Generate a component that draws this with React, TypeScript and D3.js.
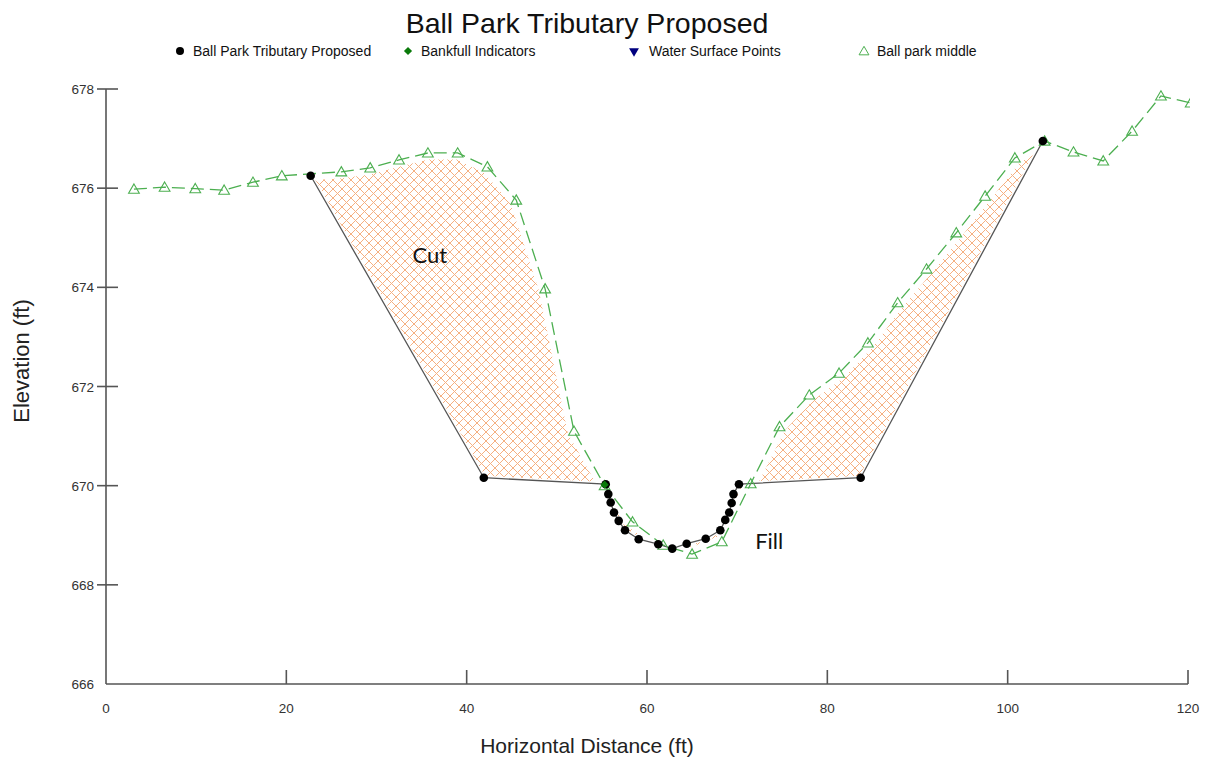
import React from "react";
import * as d3 from "d3";

// ---- data ----
const proposedX = [22.7, 41.9, 55.42, 55.71, 55.97, 56.34, 56.86, 57.56, 59.08, 61.25, 62.8, 64.4, 66.51, 68.13, 68.68, 69.12, 69.39, 69.59, 70.2, 83.7, 103.9];
const proposedY = [676.25, 670.16, 670.03, 669.83, 669.66, 669.46, 669.29, 669.1, 668.92, 668.82, 668.73, 668.83, 668.93, 669.1, 669.31, 669.46, 669.65, 669.83, 670.03, 670.16, 676.95];

const middleX = [3.1, 6.5, 9.9, 13.1, 16.3, 19.5, 26.1, 29.3, 32.5, 35.7, 39.0, 42.3, 45.5, 48.7, 51.9, 55.3, 58.4, 61.8, 65.0, 68.3, 71.5, 74.7, 78.0, 81.3, 84.5, 87.8, 91.0, 94.3, 97.5, 100.8, 104.1, 107.3, 110.6, 113.8, 117.0, 120.3];
const middleY = [675.98, 676.02, 675.99, 675.96, 676.12, 676.25, 676.33, 676.41, 676.57, 676.71, 676.71, 676.43, 675.76, 673.97, 671.1, 670.0, 669.27, 668.8, 668.62, 668.87, 670.04, 671.19, 671.83, 672.27, 672.88, 673.69, 674.37, 675.1, 675.84, 676.61, 676.95, 676.73, 676.55, 677.15, 677.86, 677.72];

const bankfullX = [55.3];
const bankfullY = [670.02];

const xTicks = [0, 20, 40, 60, 80, 100, 120];
const yTicks = [666, 668, 670, 672, 674, 676, 678];

const legendLabels = ["Ball Park Tributary Proposed", "Bankfull Indicators", "Water Surface Points", "Ball park middle"];

const annotations = [
  { label: "Cut", x: 34.0, y: 674.49 },
  { label: "Fill", x: 72.0, y: 668.73 },
];

// ---- layout ----
const W = 1205, H = 757;
const L = 106, R = 1188, T = 89, B = 684;

const x = d3.scaleLinear().domain([0, 120]).range([L, R]);
const y = d3.scaleLinear().domain([666, 678]).range([B, T]);

const proposed: [number, number][] = proposedX.map((v, i) => [v, proposedY[i]]);
const middle: [number, number][] = middleX.map((v, i) => [v, middleY[i]]);

function interp(pts: [number, number][], xv: number) {
  for (let i = 0; i < pts.length - 1; i++) {
    const [x0, y0] = pts[i], [x1, y1] = pts[i + 1];
    if (xv >= x0 && xv <= x1) return x1 === x0 ? y0 : y0 + ((xv - x0) / (x1 - x0)) * (y1 - y0);
  }
  return pts[pts.length - 1][1];
}

const lo = proposedX[0], hi = proposedX[proposedX.length - 1];
const unionX = Array.from(new Set([...proposedX, ...middleX.filter((v) => v > lo && v < hi)])).sort((a, b) => a - b);
const topEdge: [number, number][] = unionX.map((v) => [v, interp(middle, v)]);
const bottomEdge: [number, number][] = [...unionX].reverse().map((v) => [v, interp(proposed, v)]);

const line = d3.line<[number, number]>().x((d) => x(d[0])).y((d) => y(d[1]));
const hatchPath = line([...topEdge, ...bottomEdge]) + "Z";

const triUp = d3.symbol(d3.symbolTriangle, 50)()!;
const diamond = d3.symbol(d3.symbolSquare, 34)()!;
const triLegend = d3.symbol(d3.symbolTriangle, 42)()!;

const font = "'Liberation Sans', Arial, sans-serif";

export default function App() {
  const legendPos = [180, 408, 634, 864];
  return (
    <svg width={W} height={H} style={{ position: "absolute", left: 0, top: 0, background: "#fff" }} fontFamily={font}>
      <defs>
        <pattern id="hatch" width={9} height={9} patternUnits="userSpaceOnUse">
          <path d="M0,0L9,9M9,0L0,9" stroke="#f29656" strokeWidth={1} opacity={0.75} />
        </pattern>
        <clipPath id="plot">
          <rect x={L} y={T - 20} width={R - L + 2} height={B - T + 20} />
        </clipPath>
      </defs>
      <rect width={W} height={H} fill="#fff" />

      <text x={587} y={33} textAnchor="middle" fontSize={28.5} fill="#111">Ball Park Tributary Proposed</text>

      {/* legend */}
      <g fontSize={14} fill="#111">
        <circle cx={legendPos[0]} cy={51} r={4} fill="#000" />
        <text x={legendPos[0] + 13} y={56}>{legendLabels[0]}</text>
        <path d={diamond} transform={`translate(${legendPos[1]},51) rotate(45)`} fill="#0a7a0a" />
        <text x={legendPos[1] + 13} y={56}>{legendLabels[1]}</text>
        <path d={triLegend} transform={`translate(${legendPos[2]},51) rotate(180)`} fill="#00007f" />
        <text x={legendPos[2] + 15} y={56}>{legendLabels[2]}</text>
        <path d={triLegend} transform={`translate(${legendPos[3]},52)`} fill="none" stroke="#4caf50" strokeWidth={1} />
        <text x={legendPos[3] + 13} y={56}>{legendLabels[3]}</text>
      </g>

      {/* axes */}
      <g stroke="#555" strokeWidth={1.6}>
        <line x1={L} x2={L} y1={T} y2={B} />
        <line x1={L} x2={R} y1={B} y2={B} />
        {yTicks.slice(1).map((t) => (
          <line key={t} x1={L - 9} x2={L + 12} y1={y(t)} y2={y(t)} />
        ))}
        {xTicks.slice(1).map((t) => (
          <line key={t} x1={x(t)} x2={x(t)} y1={B - 14} y2={B} />
        ))}
      </g>
      <g fontSize={13.5} fill="#333">
        {yTicks.map((t) => (
          <text key={t} x={L - 12} y={y(t) + 5} textAnchor="end">{t}</text>
        ))}
        {xTicks.map((t) => (
          <text key={t} x={x(t)} y={713} textAnchor="middle">{t}</text>
        ))}
      </g>
      <text x={587} y={753} textAnchor="middle" fontSize={21} fill="#222">Horizontal Distance (ft)</text>
      <text transform="translate(29,361) rotate(-90)" textAnchor="middle" fontSize={22} fill="#222">Elevation (ft)</text>

      <g clipPath="url(#plot)">
        {/* cut / fill hatch */}
        <path d={hatchPath} fill="url(#hatch)" stroke="none" fillRule="evenodd" />
        {/* white halo around existing ground line */}
        <path d={line(middle)!} fill="none" stroke="#fff" strokeWidth={13} strokeLinejoin="round" />
        {/* white halo along proposed line */}
        <path d={line(proposed)!} fill="none" stroke="#fff" strokeWidth={4} />
        {/* proposed line */}
        <path d={line(proposed)!} fill="none" stroke="#555" strokeWidth={1.3} />
        {/* middle dashed line */}
        <path d={line(middle)!} fill="none" stroke="#4caf50" strokeWidth={1.3} strokeDasharray="13,6" />
        {middle.map((d, i) => (
          <path key={i} d={triUp} transform={`translate(${x(d[0])},${y(d[1]) + 1})`} fill="none" stroke="#4caf50" strokeWidth={1.1} />
        ))}
        {proposed.map((d, i) => (
          <circle key={i} cx={x(d[0])} cy={y(d[1])} r={4.3} fill="#000" />
        ))}
        {bankfullX.map((v, i) => (
          <path key={i} d={diamond} transform={`translate(${x(v)},${y(bankfullY[i])}) rotate(45)`} fill="#0a7a0a" />
        ))}
      </g>

      {annotations.map((a) => (
        <text key={a.label} x={x(a.x)} y={y(a.y)} fontFamily="Lato, 'Open Sans', sans-serif" fontSize={22} fill="#111">{a.label}</text>
      ))}
    </svg>
  );
}
